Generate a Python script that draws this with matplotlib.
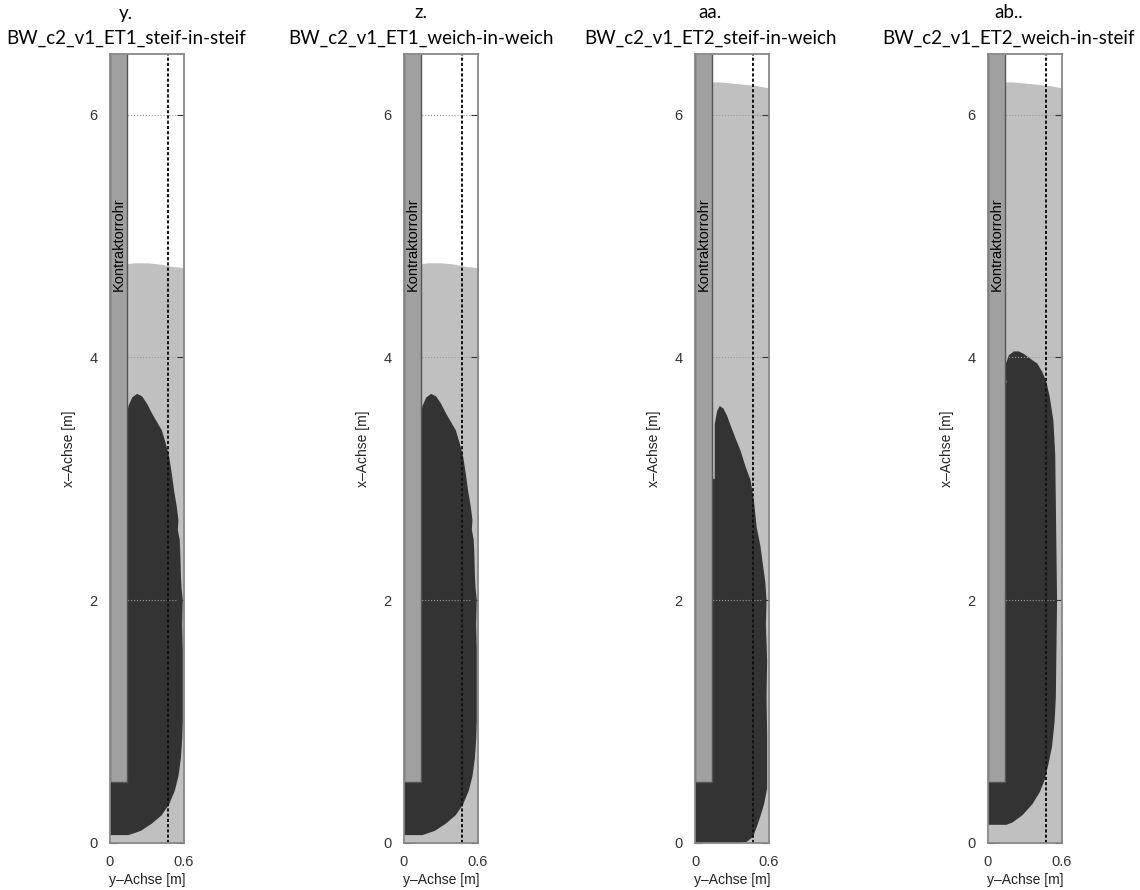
import numpy as np
import matplotlib.pyplot as plt

# panel titles
letters = ["y.", "z.", "aa.", "ab.."]
names = ["BW_c2_v1_ET1_steif-in-steif", "BW_c2_v1_ET1_weich-in-weich",
         "BW_c2_v1_ET2_steif-in-weich", "BW_c2_v1_ET2_weich-in-steif"]

# Kontraktorrohr geometry [m]
pipe_width = 0.135
pipe_bottom = 0.5
dash_y = 0.47

# light grey fill (top edge), same x for all panels
fill_x = [0.0, 0.1, 0.2, 0.3, 0.4, 0.5, 0.6]
fill_top_1 = [4.76, 4.77, 4.78, 4.78, 4.77, 4.75, 4.74]
fill_top_2 = [4.76, 4.77, 4.78, 4.78, 4.77, 4.75, 4.74]
fill_top_3 = [6.26, 6.27, 6.27, 6.26, 6.25, 6.24, 6.22]
fill_top_4 = [6.26, 6.27, 6.27, 6.26, 6.25, 6.24, 6.22]

# dark body outlines (y-Achse, x-Achse)
body_y_1 = [0.0, 0.0, 0.135, 0.135, 0.15, 0.18, 0.22, 0.26, 0.30, 0.34, 0.38, 0.42,
            0.45, 0.48, 0.50, 0.52, 0.54, 0.555, 0.55, 0.565, 0.57, 0.575, 0.58,
            0.59, 0.585, 0.59, 0.59, 0.59, 0.585, 0.575, 0.555, 0.525, 0.48,
            0.42, 0.34, 0.25, 0.15]
body_x_1 = [0.065, 0.5, 0.5, 3.52, 3.60, 3.67, 3.70, 3.68, 3.62, 3.54, 3.47, 3.40,
            3.30, 3.18, 3.05, 2.90, 2.78, 2.66, 2.58, 2.50, 2.39, 2.20, 2.10,
            2.00, 1.80, 1.60, 1.30, 1.00, 0.85, 0.70, 0.55, 0.43, 0.32,
            0.23, 0.16, 0.10, 0.065]
body_y_2 = list(body_y_1)
body_x_2 = list(body_x_1)
body_y_3 = [0.0, 0.0, 0.135, 0.135, 0.16, 0.16, 0.18, 0.20, 0.23, 0.26, 0.285,
            0.33, 0.37, 0.41, 0.45, 0.48, 0.50, 0.53, 0.55, 0.57, 0.58, 0.575,
            0.585, 0.58, 0.585, 0.585, 0.56, 0.53, 0.50, 0.47, 0.42, 0.35]
body_x_3 = [0.0, 0.5, 0.5, 3.0, 3.0, 3.45, 3.56, 3.60, 3.58, 3.52, 3.45,
            3.33, 3.23, 3.10, 2.99, 2.80, 2.60, 2.45, 2.30, 2.15, 2.00, 1.80,
            1.50, 1.20, 0.90, 0.45, 0.32, 0.22, 0.13, 0.05, 0.01, 0.0]
body_y_4 = [0.0, 0.0, 0.135, 0.135, 0.15, 0.135, 0.145, 0.17, 0.21, 0.25, 0.29,
            0.33, 0.37, 0.40, 0.44, 0.47, 0.50, 0.53, 0.545, 0.55, 0.555, 0.56,
            0.555, 0.55, 0.54, 0.52, 0.49, 0.46, 0.42, 0.36, 0.28, 0.20, 0.15]
body_x_4 = [0.15, 0.5, 0.5, 3.75, 3.80, 3.85, 3.95, 4.02, 4.05, 4.05, 4.03,
            4.00, 3.97, 3.95, 3.88, 3.81, 3.68, 3.48, 3.20, 2.80, 2.40, 2.00,
            1.60, 1.20, 1.00, 0.80, 0.65, 0.52, 0.42, 0.32, 0.23, 0.17, 0.15]

fill_tops = [fill_top_1, fill_top_2, fill_top_3, fill_top_4]
bodies = [(body_y_1, body_x_1), (body_y_2, body_x_2),
          (body_y_3, body_x_3), (body_y_4, body_x_4)]

W, H = 1140, 890
fig = plt.figure(figsize=(W / 100, H / 100), dpi=100)

ax_left = [110, 404, 695, 988]
title_x = [126, 421, 710, 1009]

for i in range(4):
    ax = fig.add_axes([ax_left[i] / W, 1 - 843 / H, 74 / W, 789 / H])
    ax.set_xlim(0, 0.6)
    ax.set_ylim(0, 6.5)

    ax.fill_between(fill_x, 0, fill_tops[i], color="#c0c0c0", lw=0, zorder=1)
    by, bx = bodies[i]
    ax.fill(by, bx, color="#333333", lw=0, zorder=1.5)

    # Kontraktorrohr
    ax.fill([0, pipe_width, pipe_width, 0], [pipe_bottom, pipe_bottom, 7, 7],
            facecolor="#a0a0a0", edgecolor="#555555", lw=1, zorder=3)
    ax.text(pipe_width / 2, 4.93, "Kontraktorrohr", rotation=90, ha="center",
            va="center", fontsize=10.5, family="Liberation Sans", zorder=4)

    ax.axvline(dash_y, color="#111111", lw=1.4, ls=(0, (1.6, 1.1)), zorder=4)

    ax.set_xticks([0, 0.6])
    ax.set_xticklabels(["0", "0.6"])
    ax.set_yticks([0, 2, 4, 6])
    ax.set_yticklabels(["0", "2", "4", "6"])
    ax.grid(axis="y", ls=":", color="#999999", lw=0.8)
    ax.set_axisbelow(False)
    ax.tick_params(axis="y", direction="in", length=5, right=True, pad=9,
                   colors="#333333", labelsize=10.5)
    ax.tick_params(axis="x", direction="in", length=0, pad=9,
                   colors="#333333", labelsize=10.5)
    for lab in ax.get_xticklabels() + ax.get_yticklabels():
        lab.set_family("Liberation Sans")
    for sp in ax.spines.values():
        sp.set_color("#888888")
        sp.set_linewidth(1.3)
        sp.set_zorder(5)

    ax.set_ylabel("x\u2013Achse [m]", fontsize=10, family="Liberation Sans", color="#222222")
    ax.yaxis.set_label_coords(-0.46, 0.5)
    ax.set_xlabel("y\u2013Achse [m]", fontsize=10, family="Liberation Sans", color="#222222")
    ax.xaxis.set_label_coords(0.5, -0.038)

    fig.text(title_x[i] / W, 1 - 13 / H, letters[i], ha="center", va="center",
             fontsize=13.5, family="Lato")
    fig.text(title_x[i] / W, 1 - 38 / H, names[i], ha="center", va="center",
             fontsize=13.5, family="Lato")

fig.savefig("out.png", dpi=100)
